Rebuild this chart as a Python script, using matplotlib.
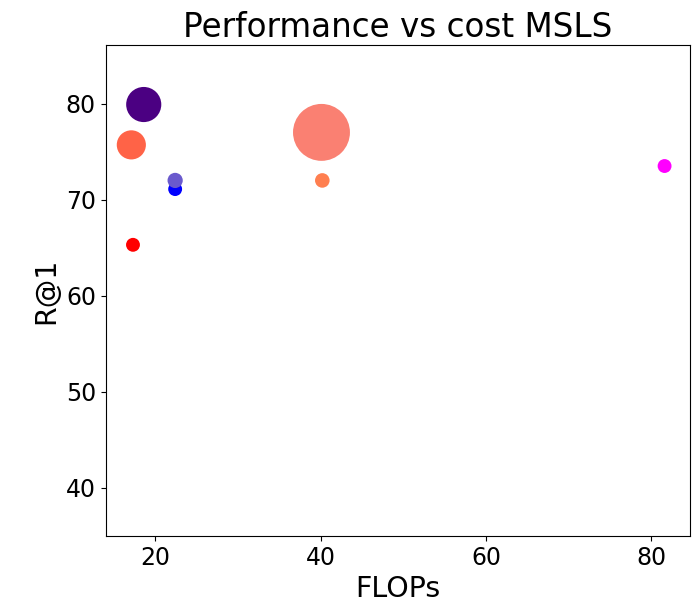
import matplotlib
matplotlib.use("Agg")
import matplotlib.pyplot as plt

# FLOPs vs R@1 on MSLS, bubble size ~ model cost
flops = [22.4, 22.4, 17.3, 17.1, 18.6, 40.1, 40.2, 81.6]
r_at_1 = [71.1, 72.0, 65.3, 75.7, 79.9, 77.0, 72.0, 73.5]
sizes = [100, 120, 100, 440, 640, 1680, 110, 100]
colors = ["blue", "slateblue", "red", "tomato", "indigo", "salmon", "coral", "magenta"]

fig = plt.figure(figsize=(7, 6.04), dpi=100)
ax = fig.add_axes([0.151, 0.1126, 0.835, 0.813])

for x, y, s, c in zip(flops, r_at_1, sizes, colors):
    ax.scatter(x, y, s=s, color=c, edgecolors="none")

ax.set_xlim(14, 84.7)
ax.set_ylim(35, 86.1)
ax.set_xticks([20, 40, 60, 80])
ax.set_yticks([40, 50, 60, 70, 80])
ax.tick_params(labelsize=17)
ax.set_title("Performance vs cost MSLS", fontsize=23.5)
ax.set_xlabel("FLOPs", fontsize=20.5)
ax.set_ylabel("R@1", fontsize=20.5)

plt.savefig("out.png")
